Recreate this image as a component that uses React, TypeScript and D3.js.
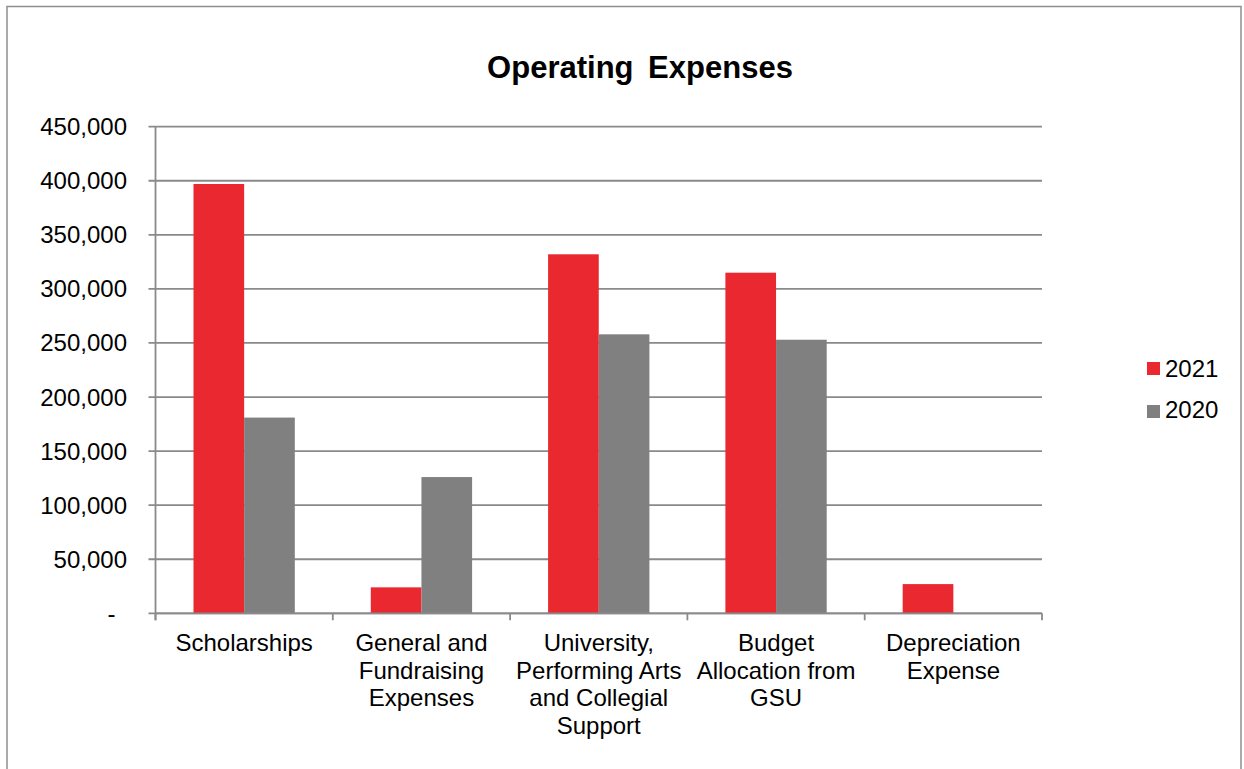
import React from 'react';
import * as d3 from 'd3';

const categories = [
    ['Scholarships'],
    ['General and', 'Fundraising', 'Expenses'],
    ['University,', 'Performing Arts', 'and Collegial', 'Support'],
    ['Budget', 'Allocation from', 'GSU'],
    ['Depreciation', 'Expense'],
];
const seriesNames = ['2021', '2020'];
const values2021 = [397000, 24000, 332000, 315000, 27000];
const values2020 = [181000, 126000, 258000, 253000, 0];
const yTicks = [0, 50000, 100000, 150000, 200000, 250000, 300000, 350000, 400000, 450000];

const colors = ['#E9292F', '#808080'];
const W = 1244;
const H = 769;
const font = 'Arial, "Liberation Sans", sans-serif';

const App: React.FC = () => {
    const left = 155.5;
    const right = 1042;
    const top = 126.7;
    const bottom = 613.3;

    const x = d3.scaleBand<number>()
        .domain(d3.range(categories.length))
        .range([left, right]);

    // gap width 150% like excel
    const inner = d3.scaleBand<number>()
        .domain([0, 1])
        .range([0, x.bandwidth()])
        .paddingInner(0)
        .paddingOuter(0.75);

    const y = d3.scaleLinear().domain([0, 450000]).range([bottom, top]);
    const fmt = (v: number) => (v === 0 ? '-' : d3.format(',')(v));
    const series = [values2021, values2020];

    return (
        <svg width={W} height={H} style={{ position: 'absolute', left: 0, top: 0, background: '#fff' }}>
            <rect x={7} y={6.5} width={1234} height={780} fill="#fff" stroke="#8f8f8f" strokeWidth={1.5} />
            <text x={640} y={78} textAnchor="middle" fontFamily={font} fontWeight="bold" fontSize={31} wordSpacing={6}>
                Operating Expenses
            </text>

            {yTicks.map(t => (
                <g key={t}>
                    <line x1={left - 7} x2={right} y1={y(t)} y2={y(t)} stroke="#8a8a8a" strokeWidth={1.8} />
                    {/* accounting format: the dash sits left of the digits' edge */}
                    <text x={t === 0 ? 115.5 : 127} y={y(t) + 8.5} textAnchor="end" fontFamily={font} fontSize={24}>
                        {fmt(t)}
                    </text>
                </g>
            ))}

            {series.map((vals, si) => (
                <g key={si}>
                    {vals.map((v, i) => v > 0 && (
                        <rect
                            key={i}
                            x={(x(i) as number) + (inner(si) as number)}
                            y={y(v)}
                            width={inner.bandwidth()}
                            height={y(0) - y(v)}
                            fill={colors[si]}
                        />
                    ))}
                </g>
            ))}

            <line x1={left} x2={left} y1={top} y2={bottom + 7} stroke="#8a8a8a" strokeWidth={1.8} />
            <line x1={left} x2={right} y1={bottom} y2={bottom} stroke="#8a8a8a" strokeWidth={1.8} />
            {d3.range(categories.length + 1).map(i => {
                const xx = left + i * x.step();
                return <line key={i} x1={xx} x2={xx} y1={bottom} y2={bottom + 7} stroke="#8a8a8a" strokeWidth={1.8} />;
            })}

            {categories.map((lines, i) => (
                <text key={i} textAnchor="middle" fontFamily={font} fontSize={24}>
                    {lines.map((ln, j) => (
                        <tspan key={j} x={(x(i) as number) + x.bandwidth() / 2} y={651 + j * 27.5}>
                            {ln}
                        </tspan>
                    ))}
                </text>
            ))}

            {seriesNames.map((name, i) => (
                <g key={name}>
                    <rect x={1147} y={362 + i * 43} width={13} height={13} fill={colors[i]} />
                    <text x={1165} y={377 + i * 40.5} fontFamily={font} fontSize={24}>{name}</text>
                </g>
            ))}
        </svg>
    );
};

export default App;
